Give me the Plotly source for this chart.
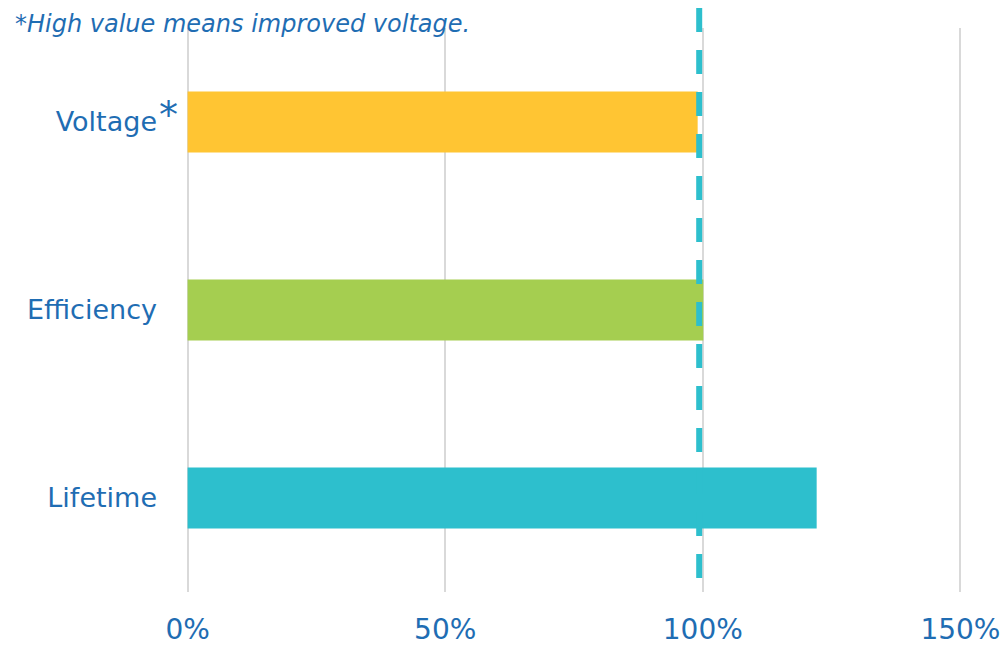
import plotly.graph_objects as go

categories = ["Voltage", "Efficiency", "Lifetime"]
values = [99.0, 100.1, 122.1]
bar_colors = ["#FFC533", "#A5CE50", "#2DBFCD"]
reference_value = 99.3
x_ticks = [0, 50, 100, 150]
x_tick_labels = ["0%", "50%", "100%", "150%"]
note_text = "*<i>High value means improved voltage.</i>"

TEXT = "#1F6DB3"
FONT = "DejaVu Sans"

fig = go.Figure()
fig.add_trace(go.Bar(
    y=categories, x=values, orientation="h",
    marker=dict(color=bar_colors, line=dict(width=0)),
    hoverinfo="skip",
))

fig.add_shape(type="line", xref="x", yref="paper",
              x0=reference_value, x1=reference_value, y0=1.0355, y1=0.025,
              line=dict(color="#2DBFCD", width=6, dash="24px,18px"), layer="above")

fig.add_annotation(text=note_text, xref="paper", yref="paper",
                   x=-0.221, y=1.007, xanchor="left", yanchor="middle",
                   showarrow=False, font=dict(family=FONT, size=24, color=TEXT))

fig.add_annotation(text="*", xref="paper", yref="y", x=0, y="Voltage",
                   xanchor="left", yanchor="middle", xshift=-27, yshift=7,
                   borderpad=0,
                   showarrow=False, font=dict(family=FONT, size=38, color=TEXT))

fig.update_layout(
    width=1007, height=645,
    margin=dict(l=185, r=44, t=28, b=53),
    paper_bgcolor="white", plot_bgcolor="white",
    bargap=0.676, showlegend=False,
    font=dict(family=FONT, color=TEXT),
)
fig.update_xaxes(range=[-0.5, 150.5], tickvals=x_ticks, ticktext=x_tick_labels,
                 showgrid=True, gridcolor="#D9D9D9", gridwidth=2,
                 zeroline=False, showline=False, ticks="", automargin=False,
                 tickfont=dict(family=FONT, size=28, color=TEXT),
                 ticklabelstandoff=18, fixedrange=True)
fig.update_yaxes(categoryorder="array", categoryarray=categories[::-1],
                 showgrid=False, zeroline=False, showline=False, ticks="",
                 automargin=False,
                 tickfont=dict(family=FONT, size=27, color=TEXT),
                 ticklabelstandoff=27, fixedrange=True)

fig.write_html("out.html")
